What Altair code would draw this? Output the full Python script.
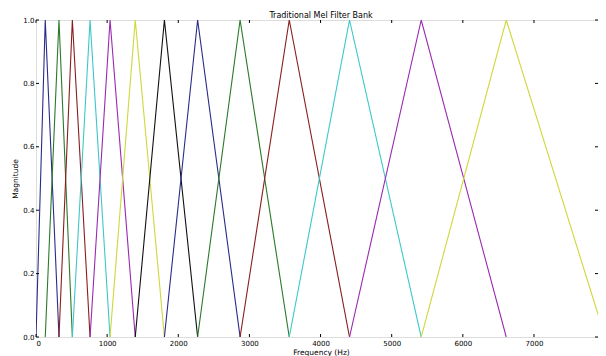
import altair as alt
import pandas as pd

# Filter edge / centre frequencies (Hz)
edges_hz = [0, 130, 323, 511, 760, 1041, 1395, 1805, 2272, 2869, 3560, 4407, 5415, 6610, 8000]
line_colors = ["#2b2b8a", "#2a7a2a", "#8a1e1e", "#3cc8c8", "#9a2ab0", "#cfd83a", "#111111"]
x_ticks = [0, 1000, 2000, 3000, 4000, 5000, 6000, 7000]
y_ticks = [0.0, 0.2, 0.4, 0.6, 0.8, 1.0]
x_visible_max = 7900  # the reference crops the plot just before 8000 Hz

W, H = 562, 317
TL = 3  # inward tick length (px)

rows = []
n_filters = len(edges_hz) - 2
for i in range(n_filters):
    pts = [(edges_hz[i], 0.0), (edges_hz[i + 1], 1.0), (edges_hz[i + 2], 0.0)]
    for k, (f, m) in enumerate(pts):
        rows.append({"filt": i, "order": k, "freq": f, "mag": m})
df = pd.DataFrame(rows)

color_domain = list(range(n_filters))
color_range = [line_colors[i % len(line_colors)] for i in range(n_filters)]

xscale = alt.Scale(domain=[0, x_visible_max], nice=False, zero=False)
yscale = alt.Scale(domain=[0, 1], nice=False)

font = "DejaVu Sans"

x_axis = alt.Axis(values=x_ticks, format="d", title="Frequency (Hz)",
                  labelFontSize=7, labelPadding=2, tickSize=0, domain=False,
                  grid=False, labelFont=font, titleFont=font,
                  titleFontSize=7.5, titleFontWeight="normal",
                  titleX=W / 2 + 4, titleY=15, titleBaseline="middle",
                  labelColor="#000", titleColor="#000")
y_axis = alt.Axis(values=y_ticks, format=".1f", title="Magnitude",
                  labelFontSize=7, labelPadding=2, tickSize=0, domain=False,
                  grid=False, labelFont=font, titleFont=font,
                  titleFontSize=7.5, titleFontWeight="normal",
                  titleX=-21, titleY=H / 2, titleBaseline="middle",
                  titleAlign="center",
                  labelColor="#000", titleColor="#000")

lines = alt.Chart(df).mark_line(strokeWidth=1.1, clip=True).encode(
    x=alt.X("freq:Q", scale=xscale, axis=x_axis),
    y=alt.Y("mag:Q", scale=yscale, axis=y_axis),
    color=alt.Color("filt:N", scale=alt.Scale(domain=color_domain, range=color_range), legend=None),
    detail="filt:N",
    order="order:Q",
)

xt = pd.DataFrame({"freq": x_ticks})
yt = pd.DataFrame({"mag": y_ticks})

tick_style = dict(color="#000", strokeWidth=1)
bottom_ticks = alt.Chart(xt).mark_rule(**tick_style).encode(
    x=alt.X("freq:Q", scale=xscale, axis=x_axis), y=alt.value(H), y2=alt.value(H - TL))
top_ticks = alt.Chart(xt).mark_rule(**tick_style).encode(
    x=alt.X("freq:Q", scale=xscale, axis=x_axis), y=alt.value(0), y2=alt.value(TL))
left_ticks = alt.Chart(yt).mark_rule(**tick_style).encode(
    y=alt.Y("mag:Q", scale=yscale, axis=y_axis), x=alt.value(0), x2=alt.value(TL))
right_ticks = alt.Chart(yt).mark_rule(**tick_style).encode(
    y=alt.Y("mag:Q", scale=yscale, axis=y_axis), x=alt.value(W), x2=alt.value(W - TL))

chart = alt.layer(lines, bottom_ticks, top_ticks, left_ticks, right_ticks).properties(
    width=W, height=H,
    title=alt.TitleParams("Traditional Mel Filter Bank", fontSize=8, font=font,
                          fontWeight="normal", offset=3, dy=7, dx=4, color="#000"),
    autosize=alt.AutoSizeParams(type="none"),
    padding={"left": 28, "top": 12, "right": 0, "bottom": 19},
).configure_view(stroke="#000", strokeWidth=1).configure(background="white")

chart.save("out.html", embed_options={"renderer": "svg", "actions": False})
